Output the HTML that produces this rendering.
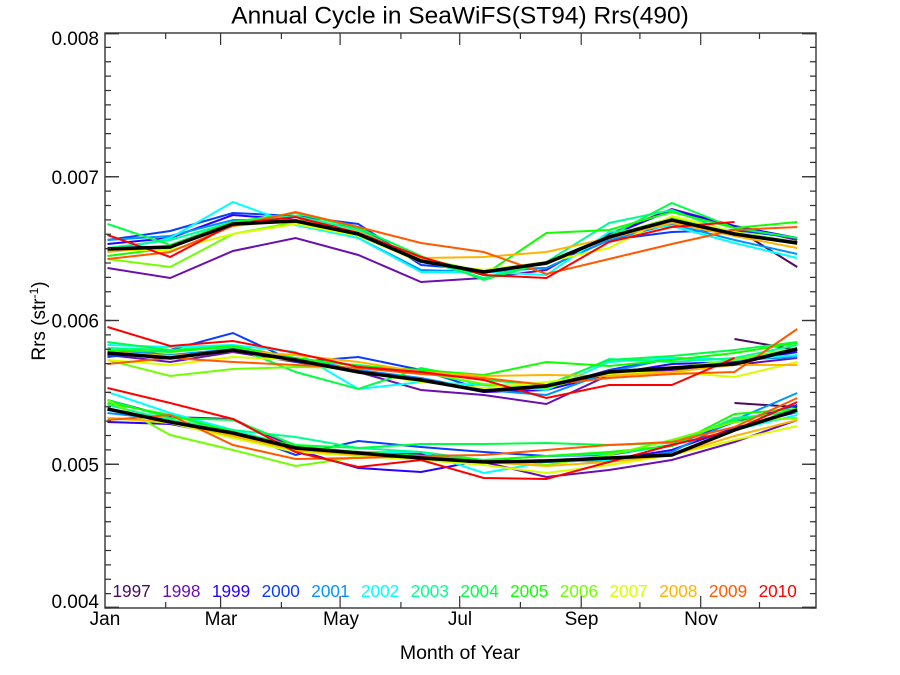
<!DOCTYPE html>
<html><head><meta charset="utf-8"><style>
html,body{margin:0;padding:0;background:#fff;}
svg{display:block;}
text{font-family:"Liberation Sans",Arial,sans-serif;}
</style></head><body>
<svg width="900" height="675" viewBox="0 0 900 675" xmlns="http://www.w3.org/2000/svg">
<rect width="900" height="675" fill="#fff"/>
<text x="460" y="23.5" font-size="24.5" text-anchor="middle" fill="#000">Annual Cycle in SeaWiFS(ST94) Rrs(490)</text>

<g fill="none" stroke-width="2" stroke-linejoin="miter">
<!-- TOP GROUP -->
<polyline stroke="#4a0a60" points="734.5,228 797.2,267"/>
<polyline stroke="#6a10b0" points="107.5,268 170.2,278 232.9,251 295.6,238 358.3,255 421,282 483.7,278 546.4,270 609.1,234 671.8,209 734.5,226 797.2,240"/>
<polyline stroke="#2a00ff" points="107.5,244 170.2,238 232.9,215 295.6,220 358.3,228 421,262 483.7,272 546.4,264 609.1,236 671.8,210 734.5,226 797.2,238"/>
<polyline stroke="#0a3cff" points="107.5,240 170.2,231 232.9,213 295.6,216 358.3,224 421,265 483.7,270 546.4,268 609.1,240 671.8,232 734.5,230 797.2,238"/>
<polyline stroke="#0094ff" points="107.5,240 170.2,236 232.9,220 295.6,220 358.3,238 421,270 483.7,272 546.4,268 609.1,240 671.8,224 734.5,240 797.2,254"/>
<polyline stroke="#00ffff" points="107.5,252 170.2,238 232.9,202 295.6,225 358.3,238 421,272 483.7,272 546.4,275 609.1,232 671.8,226 734.5,243 797.2,258"/>
<polyline stroke="#00ff90" points="107.5,248 170.2,240 232.9,222 295.6,216 358.3,230 421,260 483.7,278 546.4,262 609.1,223 671.8,210 734.5,234 797.2,244"/>
<polyline stroke="#00ff44" points="107.5,224 170.2,245 232.9,222 295.6,213 358.3,228 421,256 483.7,280 546.4,262 609.1,236 671.8,203 734.5,228 797.2,238"/>
<polyline stroke="#10ff00" points="107.5,256 170.2,248 232.9,222 295.6,220 358.3,232 421,258 483.7,275 546.4,233 609.1,230 671.8,212 734.5,228 797.2,222"/>
<polyline stroke="#70ff00" points="107.5,259 170.2,267 232.9,234 295.6,222 358.3,232 421,258 483.7,272 546.4,264 609.1,236 671.8,218 734.5,232 797.2,242"/>
<polyline stroke="#d8ff00" points="107.5,250 170.2,250 232.9,234 295.6,224 358.3,236 421,262 483.7,270 546.4,262 609.1,248 671.8,216 734.5,232 797.2,244"/>
<polyline stroke="#ffb400" points="107.5,252 170.2,246 232.9,226 295.6,220 358.3,232 421,258 483.7,257 546.4,252 609.1,238 671.8,223 734.5,236 797.2,248"/>
<polyline stroke="#ff5a00" points="107.5,259 170.2,252 232.9,226 295.6,212 358.3,227 421,243 483.7,252 546.4,274 609.1,259 671.8,244 734.5,230 797.2,227"/>
<polyline stroke="#ff0000" points="107.5,235 170.2,257 232.9,224 295.6,217 358.3,233 421,257 483.7,275 546.4,278 609.1,242 671.8,227 734.5,222"/>

<!-- MIDDLE GROUP -->
<polyline stroke="#4a0a60" points="734.5,339 797.2,350"/>
<polyline stroke="#6a10b0" points="107.5,355 170.2,362 232.9,352 295.6,362 358.3,372 421,390 483.7,395 546.4,404 609.1,375 671.8,370 734.5,365 797.2,358"/>
<polyline stroke="#2a00ff" points="107.5,352 170.2,358 232.9,350 295.6,360 358.3,372 421,380 483.7,392 546.4,390 609.1,374 671.8,364 734.5,362 797.2,352"/>
<polyline stroke="#0a3cff" points="107.5,357 170.2,350 232.9,333 295.6,362 358.3,357 421,370 483.7,390 546.4,388 609.1,370 671.8,358 734.5,360 797.2,350"/>
<polyline stroke="#0094ff" points="107.5,350 170.2,355 232.9,349 295.6,358 358.3,370 421,378 483.7,390 546.4,395 609.1,372 671.8,358 734.5,360 797.2,357"/>
<polyline stroke="#00ffff" points="107.5,345 170.2,347 232.9,345 295.6,352 358.3,389 421,382 483.7,385 546.4,390 609.1,362 671.8,358 734.5,360 797.2,355"/>
<polyline stroke="#00ff90" points="107.5,348 170.2,350 232.9,348 295.6,360 358.3,365 421,372 483.7,385 546.4,387 609.1,359 671.8,362 734.5,358 797.2,345"/>
<polyline stroke="#00ff44" points="107.5,342 170.2,350 232.9,346 295.6,372 358.3,389 421,368 483.7,380 546.4,385 609.1,360 671.8,356 734.5,350 797.2,342"/>
<polyline stroke="#10ff00" points="107.5,350 170.2,352 232.9,346 295.6,358 358.3,366 421,370 483.7,375 546.4,362 609.1,366 671.8,360 734.5,353 797.2,343"/>
<polyline stroke="#70ff00" points="107.5,360 170.2,376 232.9,369 295.6,367 358.3,368 421,372 483.7,384 546.4,388 609.1,372 671.8,368 734.5,360 797.2,348"/>
<polyline stroke="#d8ff00" points="107.5,360 170.2,365 232.9,357 295.6,360 358.3,372 421,382 483.7,388 546.4,382 609.1,374 671.8,372 734.5,377 797.2,362"/>
<polyline stroke="#ffb400" points="107.5,352 170.2,356 232.9,351 295.6,355 358.3,362 421,372 483.7,376 546.4,375 609.1,376 671.8,372 734.5,365 797.2,365"/>
<polyline stroke="#ff5a00" points="107.5,364 170.2,358 232.9,362 295.6,365 358.3,368 421,374 483.7,378 546.4,385 609.1,378 671.8,374 734.5,372 797.2,329"/>
<polyline stroke="#ff0000" points="107.5,327 170.2,346 232.9,341 295.6,353 358.3,367 421,372 483.7,380 546.4,398 609.1,385 671.8,385 734.5,358"/>

<!-- BOTTOM GROUP -->
<polyline stroke="#4a0a60" points="734.5,403 797.2,407"/>
<polyline stroke="#6a10b0" points="107.5,400 170.2,417 232.9,419 295.6,448 358.3,452 421,454 483.7,462 546.4,477 609.1,470 671.8,460 734.5,442 797.2,420"/>
<polyline stroke="#2a00ff" points="107.5,422 170.2,424 232.9,436 295.6,450 358.3,468 421,472 483.7,460 546.4,462 609.1,460 671.8,450 734.5,428 797.2,412"/>
<polyline stroke="#0a3cff" points="107.5,418 170.2,422 232.9,432 295.6,455 358.3,441 421,447 483.7,452 546.4,456 609.1,455 671.8,445 734.5,422 797.2,405"/>
<polyline stroke="#0094ff" points="107.5,413 170.2,420 232.9,432 295.6,448 358.3,455 421,458 483.7,462 546.4,460 609.1,462 671.8,452 734.5,420 797.2,393"/>
<polyline stroke="#00ffff" points="107.5,392 170.2,413 232.9,430 295.6,447 358.3,452 421,452 483.7,473 546.4,462 609.1,460 671.8,455 734.5,430 797.2,415"/>
<polyline stroke="#00ff90" points="107.5,405 170.2,420 232.9,430 295.6,437 358.3,448 421,452 483.7,460 546.4,456 609.1,454 671.8,446 734.5,418 797.2,412"/>
<polyline stroke="#00ff44" points="107.5,400 170.2,418 232.9,420 295.6,445 358.3,448 421,444 483.7,444 546.4,443 609.1,445 671.8,443 734.5,420 797.2,410"/>
<polyline stroke="#10ff00" points="107.5,403 170.2,415 232.9,432 295.6,446 358.3,452 421,456 483.7,460 546.4,456 609.1,452 671.8,446 734.5,414 797.2,409"/>
<polyline stroke="#70ff00" points="107.5,400 170.2,435 232.9,450 295.6,466 358.3,457 421,458 483.7,462 546.4,465 609.1,455 671.8,440 734.5,422 797.2,418"/>
<polyline stroke="#d8ff00" points="107.5,418 170.2,423 232.9,438 295.6,452 358.3,456 421,460 483.7,465 546.4,473 609.1,465 671.8,455 734.5,440 797.2,426"/>
<polyline stroke="#ffb400" points="107.5,418 170.2,422 232.9,436 295.6,450 358.3,455 421,458 483.7,462 546.4,466 609.1,462 671.8,455 734.5,436 797.2,420"/>
<polyline stroke="#ff5a00" points="107.5,420 170.2,415 232.9,445 295.6,459 358.3,458 421,456 483.7,455 546.4,450 609.1,445 671.8,442 734.5,427 797.2,398"/>
<polyline stroke="#ff0000" points="107.5,388 170.2,403 232.9,419 295.6,452 358.3,467 421,460 483.7,478 546.4,479 609.1,462 671.8,445 734.5,430 797.2,402"/>
</g>

<!-- Means -->
<g fill="none" stroke="#000" stroke-width="3.5" stroke-linejoin="miter">
<polyline points="107.5,249 170.2,247 232.9,224 295.6,221 358.3,234 421,261 483.7,272 546.4,263 609.1,237 671.8,220 734.5,234 797.2,243"/>
<polyline points="107.5,353 170.2,358 232.9,350 295.6,360 358.3,372 421,380 483.7,391 546.4,386 609.1,372 671.8,368 734.5,364 797.2,349"/>
<polyline points="107.5,409 170.2,422 232.9,433 295.6,448 358.3,453 421,458 483.7,462 546.4,461 609.1,458 671.8,455 734.5,430 797.2,410"/>
</g>

<!-- Axes box -->
<rect x="105" y="33" width="711" height="575" fill="none" stroke="#333" stroke-width="1.4"/>

<!-- Y minor ticks via dash -->
<g stroke="#333">
<line x1="108" y1="608.65" x2="108" y2="33" stroke-width="6" stroke-dasharray="1.3 13.075"/>
<line x1="813" y1="608.65" x2="813" y2="33" stroke-width="6" stroke-dasharray="1.3 13.075"/>
</g>
<!-- Y major ticks -->
<g stroke="#333" stroke-width="1.4">
<line x1="105" y1="464.25" x2="119" y2="464.25"/>
<line x1="105" y1="320.5" x2="119" y2="320.5"/>
<line x1="105" y1="176.75" x2="119" y2="176.75"/>
<line x1="816" y1="464.25" x2="802" y2="464.25"/>
<line x1="816" y1="320.5" x2="802" y2="320.5"/>
<line x1="816" y1="176.75" x2="802" y2="176.75"/>
<line x1="105" y1="33.7" x2="119" y2="33.7"/>
<line x1="816" y1="33.7" x2="802" y2="33.7"/>
<line x1="105" y1="607.3" x2="119" y2="607.3"/>
<line x1="816" y1="607.3" x2="802" y2="607.3"/>
</g>
<!-- X ticks -->
<g stroke="#333" stroke-width="1.2">
<line x1="220.6" y1="608" x2="220.6" y2="596"/><line x1="220.6" y1="33" x2="220.6" y2="45"/>
<line x1="340.1" y1="608" x2="340.1" y2="596"/><line x1="340.1" y1="33" x2="340.1" y2="45"/>
<line x1="459.7" y1="608" x2="459.7" y2="596"/><line x1="459.7" y1="33" x2="459.7" y2="45"/>
<line x1="581.2" y1="608" x2="581.2" y2="596"/><line x1="581.2" y1="33" x2="581.2" y2="45"/>
<line x1="700.7" y1="608" x2="700.7" y2="596"/><line x1="700.7" y1="33" x2="700.7" y2="45"/>
<line x1="165.7" y1="608" x2="165.7" y2="602"/><line x1="165.7" y1="33" x2="165.7" y2="39"/>
<line x1="281.4" y1="608" x2="281.4" y2="602"/><line x1="281.4" y1="33" x2="281.4" y2="39"/>
<line x1="400.9" y1="608" x2="400.9" y2="602"/><line x1="400.9" y1="33" x2="400.9" y2="39"/>
<line x1="520.4" y1="608" x2="520.4" y2="602"/><line x1="520.4" y1="33" x2="520.4" y2="39"/>
<line x1="639.9" y1="608" x2="639.9" y2="602"/><line x1="639.9" y1="33" x2="639.9" y2="39"/>
<line x1="759.5" y1="608" x2="759.5" y2="602"/><line x1="759.5" y1="33" x2="759.5" y2="39"/>
</g>

<!-- Y tick labels -->
<g font-size="19" fill="#000" text-anchor="end">
<text x="99" y="45">0.008</text>
<text x="99" y="184">0.007</text>
<text x="99" y="327.5">0.006</text>
<text x="99" y="471.5">0.005</text>
<text x="99" y="608">0.004</text>
</g>
<!-- X tick labels -->
<g font-size="19" fill="#000" text-anchor="middle">
<text x="105" y="625">Jan</text>
<text x="221" y="625">Mar</text>
<text x="341" y="625">May</text>
<text x="460" y="625">Jul</text>
<text x="581.5" y="625">Sep</text>
<text x="701" y="625">Nov</text>
</g>
<text x="460" y="659" font-size="19.5" text-anchor="middle" fill="#000">Month of Year</text>
<text transform="translate(45,321) rotate(-90)" font-size="19" text-anchor="middle" fill="#000">Rrs (str<tspan font-size="12" dy="-7">-1</tspan><tspan dy="7">)</tspan></text>

<!-- Year legend -->
<g font-size="17.2">
<text x="112.5" y="597" fill="#4a0a60">1997</text>
<text x="162.2" y="597" fill="#6a10b0">1998</text>
<text x="211.9" y="597" fill="#2a00ff">1999</text>
<text x="261.6" y="597" fill="#0a3cff">2000</text>
<text x="311.3" y="597" fill="#0094ff">2001</text>
<text x="361" y="597" fill="#00ffff">2002</text>
<text x="410.7" y="597" fill="#00ff90">2003</text>
<text x="460.4" y="597" fill="#00ff44">2004</text>
<text x="510.1" y="597" fill="#10ff00">2005</text>
<text x="559.8" y="597" fill="#70ff00">2006</text>
<text x="609.5" y="597" fill="#d8ff00">2007</text>
<text x="659.2" y="597" fill="#ffb400">2008</text>
<text x="708.9" y="597" fill="#ff5a00">2009</text>
<text x="758.6" y="597" fill="#ff0000">2010</text>
</g>
</svg>
</body></html>
